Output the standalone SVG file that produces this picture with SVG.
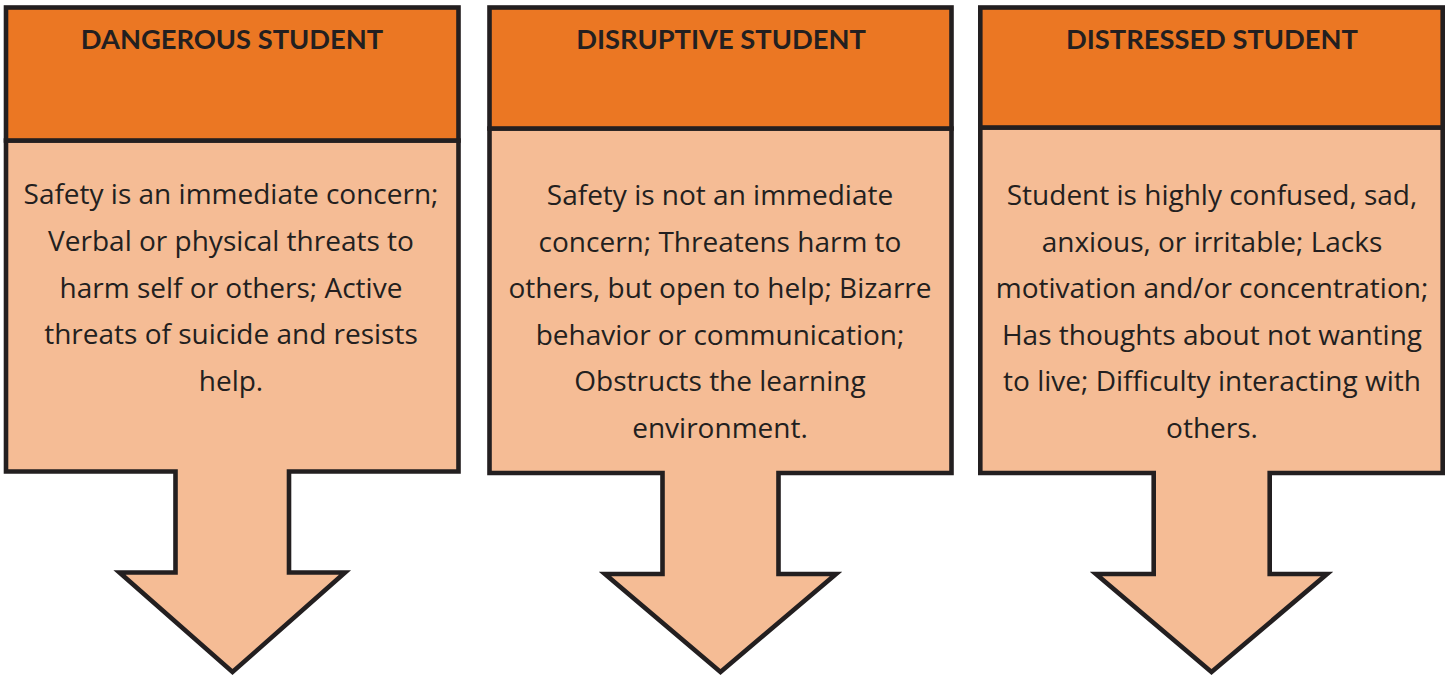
<svg xmlns="http://www.w3.org/2000/svg" width="1449" height="677" viewBox="0 0 1449 677">
<style>
  .hdr { fill: #EB7723; stroke: #231F20; stroke-width: 4.6; }
  .body { fill: #F5BC95; stroke: #231F20; stroke-width: 4.6; stroke-linejoin: miter; stroke-miterlimit: 10; }
  .title { font-family: Lato, "Open Sans", sans-serif; font-weight: bold; font-size: 27.3px; fill: #231F20; text-anchor: middle; }
  .txt { font-family: "Open Sans", Lato, sans-serif; font-size: 28px; fill: #231F20; text-anchor: middle; }
</style>
<rect width="1449" height="677" fill="#FFFFFF"/>
<g id="dangerous">
  <polygon class="body" points="6,140.5 458.5,140.5 458.5,471.5 289,471.5 289,572.5 345,572.5 232.5,672 119.5,572.5 175.5,572.5 175.5,471.5 6,471.5"/>
  <rect class="hdr" x="6" y="7.5" width="452.5" height="133"/>
  <text class="title" x="232" y="49">DANGEROUS STUDENT</text>
  <text class="txt" x="231" y="204">Safety is an immediate concern;</text>
  <text class="txt" x="231" y="251">Verbal or physical threats to</text>
  <text class="txt" x="231" y="297.5">harm self or others; Active</text>
  <text class="txt" x="231" y="344">threats of suicide and resists</text>
  <text class="txt" x="231" y="390.5">help.</text>
</g>
<g id="disruptive">
  <polygon class="body" points="489.5,128.5 951.5,128.5 951.5,473 778.5,473 778.5,574 836,574 720.5,672 605,574 662.5,574 662.5,473 489.5,473"/>
  <rect class="hdr" x="489.5" y="7.5" width="462" height="121"/>
  <text class="title" x="721" y="49">DISRUPTIVE STUDENT</text>
  <text class="txt" x="720" y="205">Safety is not an immediate</text>
  <text class="txt" x="720" y="251.5">concern; Threatens harm to</text>
  <text class="txt" x="720" y="298">others, but open to help; Bizarre</text>
  <text class="txt" x="720" y="344.5">behavior or communication;</text>
  <text class="txt" x="720" y="391">Obstructs the learning</text>
  <text class="txt" x="720" y="437.5">environment.</text>
</g>
<g id="distressed">
  <polygon class="body" points="980.3,127.5 1442.7,127.5 1442.7,473 1269.7,473 1269.7,574 1327,574 1211.5,672 1096,574 1153.7,574 1153.7,473 980.3,473"/>
  <rect class="hdr" x="980.3" y="7.5" width="462.4" height="120"/>
  <text class="title" x="1212" y="49">DISTRESSED STUDENT</text>
  <text class="txt" x="1212" y="205">Student is highly confused, sad,</text>
  <text class="txt" x="1212" y="251.5">anxious, or irritable; Lacks</text>
  <text class="txt" x="1212" y="298">motivation and/or concentration;</text>
  <text class="txt" x="1212" y="344.5">Has thoughts about not wanting</text>
  <text class="txt" x="1212" y="391">to live; Difficulty interacting with</text>
  <text class="txt" x="1212" y="437.5">others.</text>
</g>
<g id="connectors"></g>
</svg>
